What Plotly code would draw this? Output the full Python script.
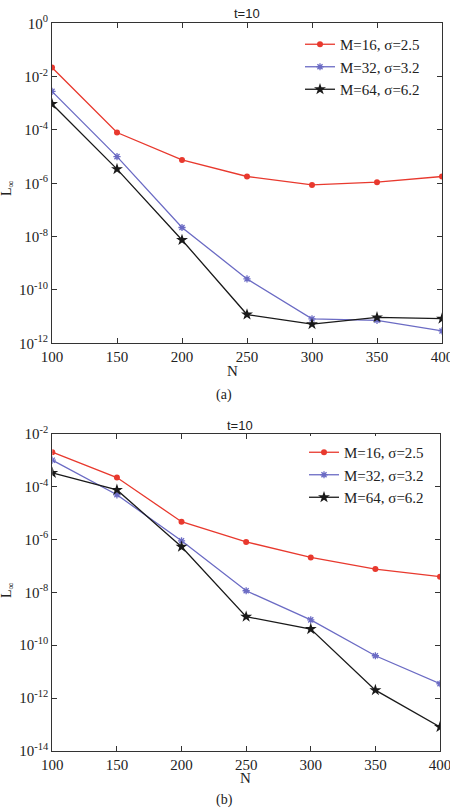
import plotly.graph_objects as go

N = [100, 150, 200, 250, 300, 350, 400]

# panel (a)
a_m16 = [2.2e-2, 8e-5, 7.5e-6, 1.8e-6, 8.7e-7, 1.1e-6, 1.8e-6]
a_m32 = [2.8e-3, 1.0e-5, 2.2e-8, 2.6e-10, 8.3e-12, 7.3e-12, 2.9e-12]
a_m64 = [9.4e-4, 3.4e-6, 7.5e-9, 1.2e-11, 5.2e-12, 9.4e-12, 8.4e-12]

# panel (b)
b_m16 = [2.0e-3, 2.2e-4, 4.7e-6, 8.1e-7, 2.1e-7, 7.6e-8, 3.9e-8]
b_m32 = [1.0e-3, 4.9e-5, 8.9e-7, 1.15e-8, 9.1e-10, 4.0e-11, 3.5e-12]
b_m64 = [3.3e-4, 7.5e-5, 5.3e-7, 1.2e-9, 4.1e-10, 2.0e-12, 8.1e-14]

names = ["M=16, σ=2.5", "M=32, σ=3.2", "M=64, σ=6.2"]
colors = ["#e8392e", "#6b6bc4", "#1a1a1a"]
symbols = ["circle", "asterisk-open", "star"]
sizes = [6, 6, 9]

a_ticks = [0, -2, -4, -6, -8, -10, -12]
b_ticks = [-2, -4, -6, -8, -10, -12, -14]
x_ticks = [100, 150, 200, 250, 300, 350, 400]

SERIF = "Liberation Serif, Times New Roman, serif"
W, H = 450, 808

fig = go.Figure()


def add_series(series, xa, ya, leg):
    for ser, nm, c, s, sz in zip(series, names, colors, symbols, sizes):
        fig.add_trace(go.Scatter(
            x=N, y=ser, name=nm, mode="lines+markers", xaxis=xa, yaxis=ya,
            line=dict(color=c, width=1.3),
            marker=dict(symbol=s, size=sz, color=c,
                        line=dict(color=c, width=1.3 if "asterisk" in s else 0)),
            legend=leg))


add_series([a_m16, a_m32, a_m64], "x", "y", "legend")
add_series([b_m16, b_m32, b_m64], "x2", "y2", "legend2")


def px_x(p):
    return p / W


def px_y(p):
    return 1 - p / H


axis_common = dict(
    showline=True, linecolor="#333", linewidth=1.2, mirror="allticks",
    ticks="inside", ticklen=5, tickcolor="#333", showgrid=False, zeroline=False,
    tickfont=dict(family=SERIF, size=15, color="#222"),
    ticklabeloverflow="allow", automargin=False,
)

fig.update_layout(
    width=W, height=H, margin=dict(l=0, r=0, t=0, b=0, pad=0), autosize=False,
    paper_bgcolor="white", plot_bgcolor="white",
    xaxis=dict(domain=[px_x(52), px_x(442)], anchor="y", range=[100, 400],
               tickvals=x_ticks, ticktext=[str(v) for v in x_ticks], **axis_common),
    yaxis=dict(domain=[px_y(343.3), px_y(23.3)], anchor="x", type="log", range=[-12, 0],
               tickvals=[10.0 ** k for k in a_ticks],
               ticktext=["10<sup>%d</sup>" % k for k in a_ticks], **axis_common),
    xaxis2=dict(domain=[px_x(52.3), px_x(440)], anchor="y2", range=[100, 400],
                tickvals=x_ticks, ticktext=[str(v) for v in x_ticks], **axis_common),
    yaxis2=dict(domain=[px_y(751), px_y(433.7)], anchor="x2", type="log", range=[-14, -2],
                tickvals=[10.0 ** k for k in b_ticks],
                ticktext=["10<sup>%d</sup>" % k for k in b_ticks], **axis_common),
    legend=dict(x=px_x(300), y=px_y(28), xanchor="left", yanchor="top",
                bgcolor="rgba(255,255,255,1)", borderwidth=0,
                font=dict(family=SERIF, size=15, color="#222"),
                tracegroupgap=0),
    legend2=dict(x=px_x(304), y=px_y(436), xanchor="left", yanchor="top",
                 bgcolor="rgba(255,255,255,1)", borderwidth=0,
                 font=dict(family=SERIF, size=15, color="#222"),
                 tracegroupgap=0),
    showlegend=True,
)


def note(text, x, y, size=15, family=SERIF, angle=0):
    return dict(text=text, x=px_x(x), y=px_y(y), xref="paper", yref="paper",
                xanchor="center", yanchor="middle", showarrow=False, textangle=angle,
                font=dict(family=family, size=size, color="#222"))


SANS = "Liberation Sans, Arial, sans-serif"
ann = [
    note("t=10", 247, 13, 13, SANS),
    note("t=10", 240, 425, 13, SANS),
    note("N", 232, 371),
    note("N", 246, 778),
    note("L<sub>∞</sub>", 7, 188, 14, SERIF, -90),
    note("L<sub>∞</sub>", 7, 590, 14, SERIF, -90),
    note("(a)", 224, 395, 14),
    note("(b)", 224, 800, 14),
]
fig.update_layout(annotations=ann)

fig.write_html("out.html")
